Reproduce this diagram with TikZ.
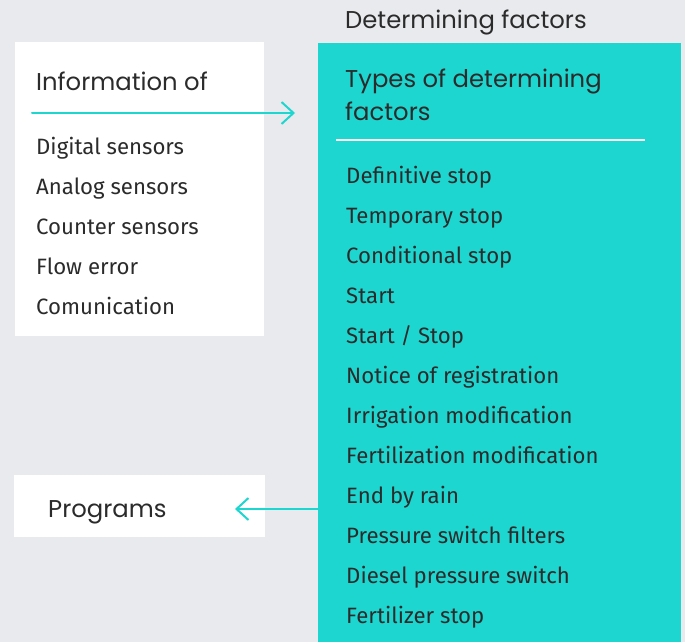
\documentclass[tikz,border=0pt]{standalone}
\usepackage{fontspec}
\setmainfont{Fira Sans}
\newfontfamily\headfont{Poppins}
\usetikzlibrary{arrows.meta, positioning, calc}
\definecolor{bggray}{HTML}{E9EAEE}
\definecolor{factorteal}{HTML}{1ED6D0}
\definecolor{inktext}{HTML}{2B2B2B}

\begin{document}
\begin{tikzpicture}[
    x=1pt, y=-1pt,
    panel/.style={rectangle, fill=white, inner sep=0pt, anchor=north west},
    head/.style={font=\headfont\fontsize{24.3}{28}\selectfont, text=inktext, anchor=base west, inner sep=0pt},
    entry/.style={font=\fontsize{22.2}{26}\selectfont, text=inktext, anchor=base west, inner sep=0pt},
    arrow/.style={-{Straight Barb[length=12pt, width=22pt]}, line width=2pt, color=factorteal, line cap=round}
]

% Canvas
\fill[bggray] (0,0) rectangle (685,642);
\useasboundingbox (0,0) rectangle (685,642);

% Boxes
\node[panel, minimum width=249pt, minimum height=294pt] (info) at (15,42) {};
\node[panel, fill=factorteal, minimum width=363pt, minimum height=600pt] (factors) at (318,43) {};
\node[panel, minimum width=251pt, minimum height=62pt] (programs) at (14,475) {};

% Headings
\node[head] (infotitle) at (36,90) {Information of};
\node[head] (dettitle) at (345,29) {Determining factors};
\node[head] (typesA) at (345,88) {Types of determining};
\node[head] (typesB) at (345,120) {factors};
\node[head] (progtitle) at (48,517) {Programs};

% Divider under the heading
\coordinate (ruleL) at (336,140);
\coordinate (ruleR) at (645,140);
\draw[white, line width=2pt] (ruleL) -- (ruleR);

% Sensor list
\foreach \txt [count=\i] in {Digital sensors, Analog sensors, Counter sensors, Flow error, Comunication}
    \node[entry] (sensor\i) at (36,114+40*\i) {\txt};

% Factor list
\foreach \txt [count=\i] in {Definitive stop, Temporary stop, Conditional stop, Start, Start / Stop, Notice of registration, Irrigation modification, Fertilization modification, End by rain, Pressure switch filters, Diesel pressure switch, Fertilizer stop}
    \node[entry] (factor\i) at (346,143+40*\i) {\txt};

% Arrows
\coordinate (infostart) at (32,113);
\coordinate (infoend) at (295,113);
\draw[arrow] (infostart) -- (infoend);

\coordinate (progend) at (235,509);
\draw[arrow] (factors.west |- progend) -- (progend);

\end{tikzpicture}
\end{document}
